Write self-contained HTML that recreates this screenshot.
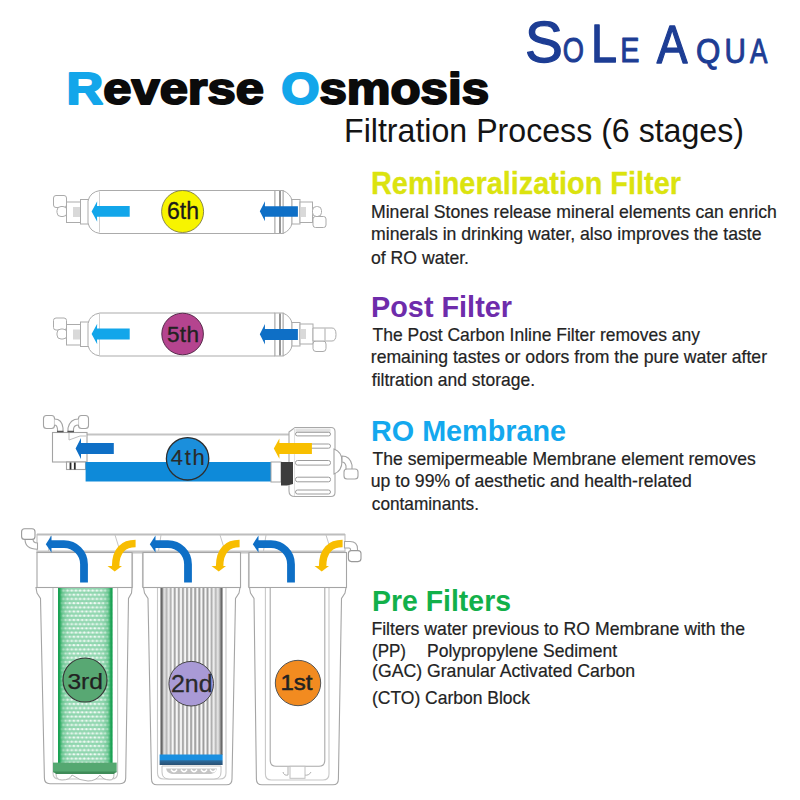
<!DOCTYPE html>
<html>
<head>
<meta charset="utf-8">
<style>
html,body{margin:0;padding:0;background:#fff;}
body{width:800px;height:800px;overflow:hidden;position:relative;font-family:"Liberation Sans",sans-serif;}
svg{position:absolute;left:0;top:0;display:block;}
</style>
</head>
<body>
<svg width="800" height="800" viewBox="0 0 800 800" font-family="Liberation Sans, sans-serif">
<rect x="0" y="0" width="800" height="800" fill="#fff"/>
<g id="diagrams">
<defs>
  <pattern id="dots" x="58" y="589" width="4.2" height="8.4" patternUnits="userSpaceOnUse">
    <rect x="0" y="0.7" width="4.2" height="1.8" fill="#fff" opacity="0.4"/>
    <rect x="0" y="4.9" width="4.2" height="1.8" fill="#fff" opacity="0.4"/>
    <circle cx="1.1" cy="1.6" r="1.05" fill="#fff"/>
    <circle cx="3.2" cy="5.8" r="1.05" fill="#fff"/>
  </pattern>
  <linearGradient id="gfade" x1="0" x2="1" y1="0" y2="0">
    <stop offset="0" stop-color="#16a050" stop-opacity="1"/>
    <stop offset="0.03" stop-color="#1fa457" stop-opacity="1"/>
    <stop offset="0.08" stop-color="#3cb16d" stop-opacity="0.5"/>
    <stop offset="0.18" stop-color="#6ac592" stop-opacity="0.12"/>
    <stop offset="0.3" stop-color="#6ac592" stop-opacity="0"/>
    <stop offset="0.7" stop-color="#6ac592" stop-opacity="0"/>
    <stop offset="0.82" stop-color="#6ac592" stop-opacity="0.12"/>
    <stop offset="0.92" stop-color="#3cb16d" stop-opacity="0.5"/>
    <stop offset="0.97" stop-color="#1fa457" stop-opacity="1"/>
    <stop offset="1" stop-color="#16a050" stop-opacity="1"/>
  </linearGradient>
  <pattern id="pleat" x="160.5" y="0" width="4.1" height="10" patternUnits="userSpaceOnUse">
    <rect x="0" y="0" width="4.1" height="10" fill="#f6f6f6"/>
    <rect x="1.2" y="0" width="1.1" height="10" fill="#7a7a7a"/>
    <rect x="2.3" y="0" width="0.9" height="10" fill="#c4c4c4"/>
  </pattern>
  <linearGradient id="pfade" x1="0" x2="1" y1="0" y2="0">
    <stop offset="0" stop-color="#555" stop-opacity="1"/>
    <stop offset="0.025" stop-color="#666" stop-opacity="0.9"/>
    <stop offset="0.05" stop-color="#c8c8c8" stop-opacity="0.6"/>
    <stop offset="0.14" stop-color="#d8d8d8" stop-opacity="0.4"/>
    <stop offset="0.2" stop-color="#fff" stop-opacity="0"/>
    <stop offset="0.8" stop-color="#fff" stop-opacity="0"/>
    <stop offset="0.86" stop-color="#d8d8d8" stop-opacity="0.4"/>
    <stop offset="0.95" stop-color="#c8c8c8" stop-opacity="0.6"/>
    <stop offset="0.975" stop-color="#666" stop-opacity="0.9"/>
    <stop offset="1" stop-color="#555" stop-opacity="1"/>
  </linearGradient>
  <linearGradient id="bband" x1="0" x2="0" y1="0" y2="1">
    <stop offset="0" stop-color="#1a8fe0"/>
    <stop offset="0.5" stop-color="#1a8fe0"/>
    <stop offset="0.6" stop-color="#2c6a9a"/>
    <stop offset="1" stop-color="#2a4f72"/>
  </linearGradient>
</defs>

<!-- ============ 6th inline filter ============ -->
<g id="inl6" fill="#fff" stroke="#ababab" stroke-width="1">
  <!-- left fittings -->
  <rect x="53.5" y="195.5" width="13" height="12" rx="2.5"/>
  <rect x="57" y="206.5" width="10" height="10" rx="4"/>
  <rect x="66.5" y="202" width="14" height="20.5"/>
  <rect x="73" y="207" width="7" height="10" fill="#d9d9d9" stroke="none"/>
  <rect x="80.5" y="199.5" width="8" height="24.5"/>
  <!-- body -->
  <path d="M100,190.5 Q90,192 88,201 V223 Q90,232 100,233.5 H275 V190.5 Z"/>
  <line x1="99.5" y1="191.5" x2="99.5" y2="232.5" stroke="#d0d0d0"/>
  <!-- right end -->
  <path d="M283,190.5 Q291,194 292,201 V223 Q291,230 283,233.5 Z"/>
  <rect x="275" y="190.5" width="8" height="43"/>
  <line x1="280" y1="191" x2="280" y2="233" stroke="#8a8a8a" stroke-width="1.8"/>
  <rect x="292" y="199.5" width="8" height="24.5"/>
  <rect x="300" y="202" width="12.5" height="20.5"/>
  <rect x="301" y="207" width="5" height="10" fill="#d9d9d9" stroke="none"/>
  <rect x="312.5" y="206.5" width="9" height="10" rx="4"/>
  <rect x="313" y="216.5" width="13" height="11" rx="2.5"/>
</g>
<polygon points="91.6,211.5 97.2,201.3 97,205.9 129.7,205.9 129.7,216.8 97,216.8 97.2,221.8" fill="#12a6ea"/>
<polygon points="259.8,211.3 265,201.3 264.9,206.2 297.9,206.2 297.9,216.8 264.9,216.8 265,221.3" fill="#0e6fc6"/>
<circle cx="182.6" cy="211.5" r="21" fill="#f7f400" stroke="#6f6c3a" stroke-width="0.8"/>

<!-- ============ 5th inline filter ============ -->
<g id="inl5" fill="#fff" stroke="#ababab" stroke-width="1">
  <rect x="53.5" y="318" width="13" height="12" rx="2.5"/>
  <rect x="57" y="329" width="10" height="10" rx="4"/>
  <rect x="66.5" y="324.5" width="14" height="20.5"/>
  <rect x="73" y="329.5" width="7" height="10" fill="#d9d9d9" stroke="none"/>
  <rect x="80.5" y="322" width="8" height="24.5"/>
  <path d="M100,313 Q90,314.5 88,323.5 V345.5 Q90,354.5 100,356 H275 V313 Z"/>
  <line x1="99.5" y1="314" x2="99.5" y2="355" stroke="#d0d0d0"/>
  <path d="M283,313 Q291,316.5 292,323.5 V345.5 Q291,352.5 283,356 Z"/>
  <rect x="275" y="313" width="8" height="43"/>
  <line x1="280" y1="313.5" x2="280" y2="355.5" stroke="#8a8a8a" stroke-width="1.8"/>
  <rect x="292" y="322.5" width="8" height="23.5"/>
  <rect x="300" y="324" width="13" height="20"/>
  <rect x="301" y="329" width="5" height="10" fill="#d9d9d9" stroke="none"/>
  <rect x="313" y="341" width="13" height="10.5" rx="3"/>
  <path d="M313,328 H332 Q336,328 336,334.5 Q336,341 332,341 H313 Z"/>
  <line x1="325" y1="328.5" x2="325" y2="340.5"/>
</g>
<polygon points="91.6,334 97.2,323.8 97,328.5 129.7,328.5 129.7,339.5 97,339.5 97.2,344.3" fill="#12a6ea"/>
<polygon points="259.8,334.3 265,324 264.9,329 297.9,329 297.9,340 264.9,340 265,344.5" fill="#0e6fc6"/>
<circle cx="182.6" cy="334" r="20.8" fill="#b5448f" stroke="#4a2040" stroke-width="0.9"/>

<!-- ============ 4th RO membrane ============ -->
<g fill="#fff" stroke="#a3a3a3" stroke-width="1.1">
  <line x1="87" y1="434.5" x2="292" y2="434.5" stroke="#c4c4c4" stroke-width="2"/>
  <!-- top elbows -->
  <rect x="43.5" y="415.5" width="11" height="13" rx="3"/>
  <path d="M54.5,419 Q62,419 63,428 V432 H57.5 V429 Q57,425 54.5,425" />
  <rect x="78.5" y="415.5" width="10" height="13" rx="3"/>
  <path d="M78.5,419 Q70,419 68,428 V432 H73.5 V429 Q74,425 78.5,425" />
  <!-- block -->
  <rect x="52.5" y="432.5" width="34.5" height="29.5"/>
  <path d="M69,433 V440 L80,436 H86" fill="none" stroke="#b5b5b5" stroke-width="0.9"/>
  <!-- connector below -->
  <rect x="66.5" y="462" width="19" height="7.5"/>
  <line x1="70.5" y1="462.5" x2="70.5" y2="469.5" stroke="#2a2a2a" stroke-width="1.8"/>
  <line x1="74.8" y1="462.5" x2="74.8" y2="469.5" stroke="#2a2a2a" stroke-width="1.8"/>
  <path d="M57,431.5 H63.5 M67.5,431.5 H74" stroke="#555" stroke-width="1.6"/>
  <!-- right nut -->
  <path d="M289,432 L295,427.5 H331 Q335,427.5 335,431.5 V492.5 Q335,496.5 331,496.5 H295 Q289,496.5 289,491 Z" stroke="#a8a8a8"/>
  <rect x="295.5" y="428.5" width="35" height="4" fill="#e2e2e2" stroke="none"/>
  <line x1="294.5" y1="428" x2="294.5" y2="496" stroke="#e0e0e0"/>
  <g fill="#fff" stroke="#9c9c9c" stroke-width="1">
    <rect x="295.5" y="432.3" width="35" height="3.6" rx="1.8"/>
    <rect x="295.5" y="444" width="35" height="4.2" rx="2"/>
    <rect x="295.5" y="460.5" width="35" height="4.6" rx="2"/>
    <rect x="295.5" y="477.2" width="35" height="4.6" rx="2"/>
    <rect x="295.5" y="490" width="35" height="4" rx="2"/>
  </g>
  <path d="M334,449 Q342,452 342,461 Q342,471 334,474 Z"/>
  <path d="M342,456 Q350,456 352,465 V470 H346 V466 Q345,462 342,462 Z"/>
  <rect x="344" y="469" width="14" height="10" rx="3"/>
</g>
<rect x="85.6" y="462" width="185.4" height="19.5" fill="#0e8ad9"/>
<rect x="271" y="462" width="10" height="20" fill="#fff" stroke="#a3a3a3" stroke-width="1"/>
<path d="M281,462 H293 V484 L287,485.5 H281 Z" fill="#3d3d3d"/>
<polygon points="75.6,448.5 81,438 81,443 113.8,443 113.8,454 81,454 81,459" fill="#0e6fc6"/>
<polygon points="273.8,448.5 279.4,438.4 279.4,443.1 311.9,443.1 311.9,454 279.4,454 279.4,458.8" fill="#f8bf00"/>
<circle cx="187.6" cy="458.8" r="21.2" fill="#1b8fdc" stroke="#2e2e2e" stroke-width="1.3"/>

<!-- ============ Pre-filters ============ -->
<g fill="#fff" stroke="#a5a5a5" stroke-width="1.1">
  <!-- housings -->
  <path d="M36,587.5 L37,593 L40.5,598.5 L44.4,778 Q44.4,783.7 50,783.7 H120 Q125.7,783.7 125.7,778 L128.5,598.5 L131.5,593 L132,587.5 Z"/>
  <path d="M143.5,587.5 L144.5,593 L148,598.5 L151.5,779 Q151.5,784.8 157,784.8 H226.5 Q232,784.8 232,779 L235.5,598.5 L239,593 L240,587.5 Z"/>
  <path d="M249.5,587.5 L250.5,593 L254,598.5 L256.4,779 Q256.4,784.8 262,784.8 H333 Q338.4,784.8 338.4,779 L341.5,598.5 L345,593 L346,587.5 Z"/>
  <!-- inner lines -->
  <path d="M53,588 V773 Q53,779 59,779 H111.6 Q117.6,779 117.6,773 V588" fill="none" stroke="#c8c8c8"/>
  <path d="M157.5,588 V773 Q157.5,779 163.5,779 H220 Q226,779 226,773 V588" fill="none" stroke="#c8c8c8"/>
  <path d="M265.4,588 V774 Q265.4,780 271.4,780 H323 Q329,780 329,774 V588" fill="none" stroke="#c8c8c8"/>
  <!-- manifold bar -->
  <rect x="37" y="534.5" width="308" height="18" stroke="#c0c0c0"/>
  <line x1="37" y1="534.6" x2="345" y2="534.6" stroke="#bdbdbd" stroke-width="2"/>
  <path d="M50.5,536 L48.5,551 M115,535 L120,551 M161,535 L158.5,551 M220,535 L225,551 M266,535 L263.5,551 M326,535 L331,551" fill="none" stroke="#c4c4c4" stroke-width="1"/>
  <line x1="37" y1="552" x2="345" y2="552" stroke="#c6c6c6" stroke-width="3"/>
  <path d="M132.5,552 V587.5 M142.5,552 V587.5 M240.5,552 V587.5 M248.5,552 V587.5" fill="none" stroke="#c4c4c4"/>
  <!-- left elbow -->
  <path d="M25,539 Q25,549.2 37.5,549.2 V543 Q33,543 33,539 Z"/>
  <rect x="21.6" y="528.8" width="13.4" height="10.6" rx="3" stroke="#999"/>
  <!-- right elbow -->
  <path d="M344.5,541.5 H350 Q357.5,541.5 357.5,549 V551 H350.5 V549.5 Q350.5,548 349,548 H344.5 Z"/>
  <rect x="348.4" y="550.6" width="12.6" height="11" rx="3" stroke="#999"/>
  <!-- caps -->
  <rect x="37" y="552.5" width="95" height="35"/>
  <rect x="143" y="552.5" width="97.5" height="35"/>
  <rect x="249" y="552.5" width="97.5" height="35"/>
</g>

<!-- 3rd green carbon -->
<rect x="58" y="588" width="54.5" height="175" fill="#90d6af"/>
<rect x="58" y="588" width="54.5" height="175" fill="url(#dots)" opacity="0.9"/>
<rect x="58" y="588" width="54.5" height="175" fill="url(#gfade)"/>
<rect x="53" y="762.6" width="63.7" height="9.8" fill="#55a871"/>
<path d="M53,771.5 H116.7 L114,774 H56 Z" fill="#3f8b58"/>
<path d="M56,774 Q56,780 62,780 Q70,780 72,775 Q80,781 88,781 Q96,781 100,775 Q103,780 110,780 Q114,780 114,774" fill="#fff" stroke="#b5b5b5" stroke-width="1"/>

<!-- 2nd pleated -->
<rect x="160.5" y="588" width="62" height="167" fill="url(#pleat)"/>
<rect x="160.5" y="588" width="62" height="167" fill="url(#pfade)"/>
<rect x="159.6" y="754.5" width="63" height="10.5" fill="url(#bband)"/>
<path d="M162,766 H221 V772 Q221,779 214,779 H169 Q162,779 162,772 Z" fill="#fff" stroke="#c2c2c2" stroke-width="1"/>
<path d="M166,768.5 H217 Q216,773 211,774 H172 Q167,773 166,768.5 Z" fill="#5a5a5a" opacity="0.35"/>
<path d="M171,769.5 Q174,774 177,769.5 M181,769.5 Q184,774 187,769.5 M191,769.5 Q194,774 197,769.5 M201,769.5 Q204,774 207,769.5 M210,769.5 Q213,774 216,769.5" fill="none" stroke="#fff" stroke-width="1.4"/>

<!-- 1st outline cartridge -->
<path d="M270.2,588 V760 Q270.2,766.3 276,766.3 H319 Q324.8,766.3 324.8,760 V588" fill="#fff" stroke="#a9a9a9" stroke-width="1.1"/>
<path d="M283,772 Q284,776 288,775 V767 M304,767 V775 Q309,776 311,772" fill="none" stroke="#b0b0b0" stroke-width="1"/>
<rect x="290" y="766.3" width="15" height="12" fill="#fff" stroke="#c0c0c0" stroke-width="1"/>

<!-- circles -->
<circle cx="85" cy="680" r="22" fill="#58a873" stroke="#353535" stroke-width="1.2"/>
<circle cx="191.2" cy="683.7" r="22.3" fill="#a99ad6" stroke="#444" stroke-width="1"/>
<circle cx="298" cy="683" r="22.7" fill="#f28b20" stroke="#555" stroke-width="1"/>

<!-- curved arrows -->
<g id="carr">
  <path d="M84,582.6 V564.2 A20,20 0 0 0 64,544.2 H50.5" fill="none" stroke="#0e6fc6" stroke-width="7.8"/>
  <polygon points="51.5,535.5 45.8,544.2 51.5,552.5" fill="#0e6fc6"/>
  <path d="M135.6,543.6 C124,543.6 115.6,550 115.6,566.5" fill="none" stroke="#f8bd00" stroke-width="7.5"/>
  <polygon points="107.5,566 122,566 114.7,571.5" fill="#f8bd00"/>
</g>
<use href="#carr" transform="translate(104,0)"/>
<use href="#carr" transform="translate(207,0)"/>
</g>
<g id="texts">
<text id="lg1" x="525.00" y="62.00" font-size="57" fill="#1d3d94" stroke="#1d3d94" stroke-width="1.3" stroke-linejoin="round" textLength="37.80" lengthAdjust="spacingAndGlyphs">S</text>
<text id="lg2" x="562.80" y="62.00" font-size="35" fill="#1d3d94" stroke="#1d3d94" stroke-width="1.0" stroke-linejoin="round" textLength="21.20" lengthAdjust="spacingAndGlyphs">O</text>
<text id="lg3" x="591.00" y="62.00" font-size="53" fill="#1d3d94" stroke="#1d3d94" stroke-width="1.3" stroke-linejoin="round" textLength="26.00" lengthAdjust="spacingAndGlyphs">L</text>
<text id="lg4" x="620.20" y="62.00" font-size="35" fill="#1d3d94" stroke="#1d3d94" stroke-width="1.0" stroke-linejoin="round" textLength="19.20" lengthAdjust="spacingAndGlyphs">E</text>
<text id="lg5" x="656.80" y="63.00" font-size="54" fill="#1d3d94" stroke="#1d3d94" stroke-width="1.3" stroke-linejoin="round" textLength="30.80" lengthAdjust="spacingAndGlyphs">A</text>
<text id="lg6" x="696.00" y="63.00" font-size="35" fill="#1d3d94" stroke="#1d3d94" stroke-width="1.0" stroke-linejoin="round" textLength="24.40" lengthAdjust="spacingAndGlyphs">Q</text>
<text id="lg7" x="724.60" y="63.00" font-size="35" fill="#1d3d94" stroke="#1d3d94" stroke-width="1.0" stroke-linejoin="round" textLength="21.40" lengthAdjust="spacingAndGlyphs">U</text>
<text id="lg8" x="750.00" y="63.00" font-size="35" fill="#1d3d94" stroke="#1d3d94" stroke-width="1.0" stroke-linejoin="round" textLength="17.40" lengthAdjust="spacingAndGlyphs">A</text>
<text id="t1" x="66.60" y="103.80" font-size="43.8" font-weight="bold" fill="#0b0b0b" stroke="#0b0b0b" stroke-width="2.0" stroke-linejoin="round" textLength="197.40" lengthAdjust="spacingAndGlyphs"><tspan fill="#13a6ea" stroke="#13a6ea">R</tspan>everse</text>
<text id="t2" x="281.20" y="103.80" font-size="43.8" font-weight="bold" fill="#0b0b0b" stroke="#0b0b0b" stroke-width="2.0" stroke-linejoin="round" textLength="207.80" lengthAdjust="spacingAndGlyphs"><tspan fill="#13a6ea" stroke="#13a6ea">O</tspan>smosis</text>
<text id="sub" x="344.00" y="142.00" font-size="33.4" fill="#141414" textLength="400.00" lengthAdjust="spacingAndGlyphs">Filtration Process (6 stages)</text>
<text id="h1" x="371.00" y="194.00" font-size="30.5" font-weight="bold" fill="#dbe30f" stroke="#dbe30f" stroke-width="0.3" stroke-linejoin="round" textLength="310.00" lengthAdjust="spacingAndGlyphs">Remineralization Filter</text>
<text id="h2" x="371.00" y="317.00" font-size="29" font-weight="bold" fill="#6e2cab" textLength="141.00" lengthAdjust="spacingAndGlyphs">Post Filter</text>
<text id="h3" x="371.00" y="441.00" font-size="29" font-weight="bold" fill="#14a8ee" textLength="195.00" lengthAdjust="spacingAndGlyphs">RO Membrane</text>
<text id="h4" x="372.00" y="611.00" font-size="29" font-weight="bold" fill="#12b04a" textLength="139.00" lengthAdjust="spacingAndGlyphs">Pre Filters</text>
<text id="b1" x="371.00" y="218.00" font-size="17.8" fill="#232323" stroke="#232323" stroke-width="0.2" stroke-linejoin="round" textLength="405.80" lengthAdjust="spacingAndGlyphs">Mineral Stones release mineral elements can enrich</text>
<text id="b2" x="371.00" y="239.50" font-size="17.8" fill="#232323" stroke="#232323" stroke-width="0.2" stroke-linejoin="round" textLength="390.60" lengthAdjust="spacingAndGlyphs">minerals in drinking water, also improves the taste</text>
<text id="b3" x="371.00" y="263.50" font-size="17.8" fill="#232323" stroke="#232323" stroke-width="0.2" stroke-linejoin="round" textLength="98.00" lengthAdjust="spacingAndGlyphs">of RO water.</text>
<text id="b4" x="372.60" y="341.00" font-size="17.8" fill="#232323" stroke="#232323" stroke-width="0.2" stroke-linejoin="round" textLength="327.40" lengthAdjust="spacingAndGlyphs">The Post Carbon Inline Filter removes any</text>
<text id="b5" x="370.80" y="362.50" font-size="17.8" fill="#232323" stroke="#232323" stroke-width="0.2" stroke-linejoin="round" textLength="396.20" lengthAdjust="spacingAndGlyphs">remaining tastes or odors from the pure water after</text>
<text id="b6" x="371.80" y="386.30" font-size="17.8" fill="#232323" stroke="#232323" stroke-width="0.2" stroke-linejoin="round" textLength="163.20" lengthAdjust="spacingAndGlyphs">filtration and storage.</text>
<text id="b7" x="372.60" y="464.90" font-size="17.8" fill="#232323" stroke="#232323" stroke-width="0.2" stroke-linejoin="round" textLength="383.20" lengthAdjust="spacingAndGlyphs">The semipermeable Membrane element removes</text>
<text id="b8" x="370.80" y="486.90" font-size="17.8" fill="#232323" stroke="#232323" stroke-width="0.2" stroke-linejoin="round" textLength="321.00" lengthAdjust="spacingAndGlyphs">up to 99% of aesthetic and health-related</text>
<text id="b9" x="371.80" y="509.70" font-size="17.8" fill="#232323" stroke="#232323" stroke-width="0.2" stroke-linejoin="round" textLength="107.20" lengthAdjust="spacingAndGlyphs">contaminants.</text>
<text id="b10" x="371.40" y="635.00" font-size="17.8" fill="#232323" stroke="#232323" stroke-width="0.2" stroke-linejoin="round" textLength="373.60" lengthAdjust="spacingAndGlyphs">Filters water previous to RO Membrane with the</text>
<text id="b11" x="372.00" y="656.50" font-size="17.8" fill="#232323" stroke="#232323" stroke-width="0.2" stroke-linejoin="round" textLength="34.00" lengthAdjust="spacingAndGlyphs">(PP)</text>
<text id="b12" x="427.00" y="656.50" font-size="17.8" fill="#232323" stroke="#232323" stroke-width="0.2" stroke-linejoin="round" textLength="190.00" lengthAdjust="spacingAndGlyphs">Polypropylene Sediment</text>
<text id="b13" x="372.00" y="677.00" font-size="17.8" fill="#232323" stroke="#232323" stroke-width="0.2" stroke-linejoin="round" textLength="263.20" lengthAdjust="spacingAndGlyphs">(GAC) Granular Activated Carbon</text>
<text id="b14" x="372.00" y="704.30" font-size="17.8" fill="#232323" stroke="#232323" stroke-width="0.2" stroke-linejoin="round" textLength="158.00" lengthAdjust="spacingAndGlyphs">(CTO) Carbon Block</text>
<text id="c6" x="167.00" y="218.50" font-size="23" fill="#1b1b1b" stroke="#1b1b1b" stroke-width="0.3" stroke-linejoin="round" textLength="32.00" lengthAdjust="spacingAndGlyphs">6th</text>
<text id="c5" x="167.00" y="342.00" font-size="22.5" fill="#222" stroke="#222" stroke-width="0.35" stroke-linejoin="round" textLength="32.00" lengthAdjust="spacing">5th</text>
<text id="c4" x="170.80" y="465.00" font-size="22" fill="#2a2a2a" stroke="#2a2a2a" stroke-width="0.15" stroke-linejoin="round" textLength="33.95" lengthAdjust="spacing">4th</text>
<text id="c3" x="67.40" y="688.70" font-size="22" fill="#222" stroke="#222" stroke-width="0.25" stroke-linejoin="round" textLength="35.60" lengthAdjust="spacingAndGlyphs">3rd</text>
<text id="c2" x="171.00" y="691.50" font-size="23" fill="#2a2a2a" stroke="#2a2a2a" stroke-width="0.3" stroke-linejoin="round" textLength="41.60" lengthAdjust="spacingAndGlyphs">2nd</text>
<text id="c1" x="280.40" y="690.20" font-size="22" fill="#222" stroke="#222" stroke-width="0.5" stroke-linejoin="round" textLength="32.00" lengthAdjust="spacingAndGlyphs">1st</text>
</g>
</svg>
</body>
</html>
